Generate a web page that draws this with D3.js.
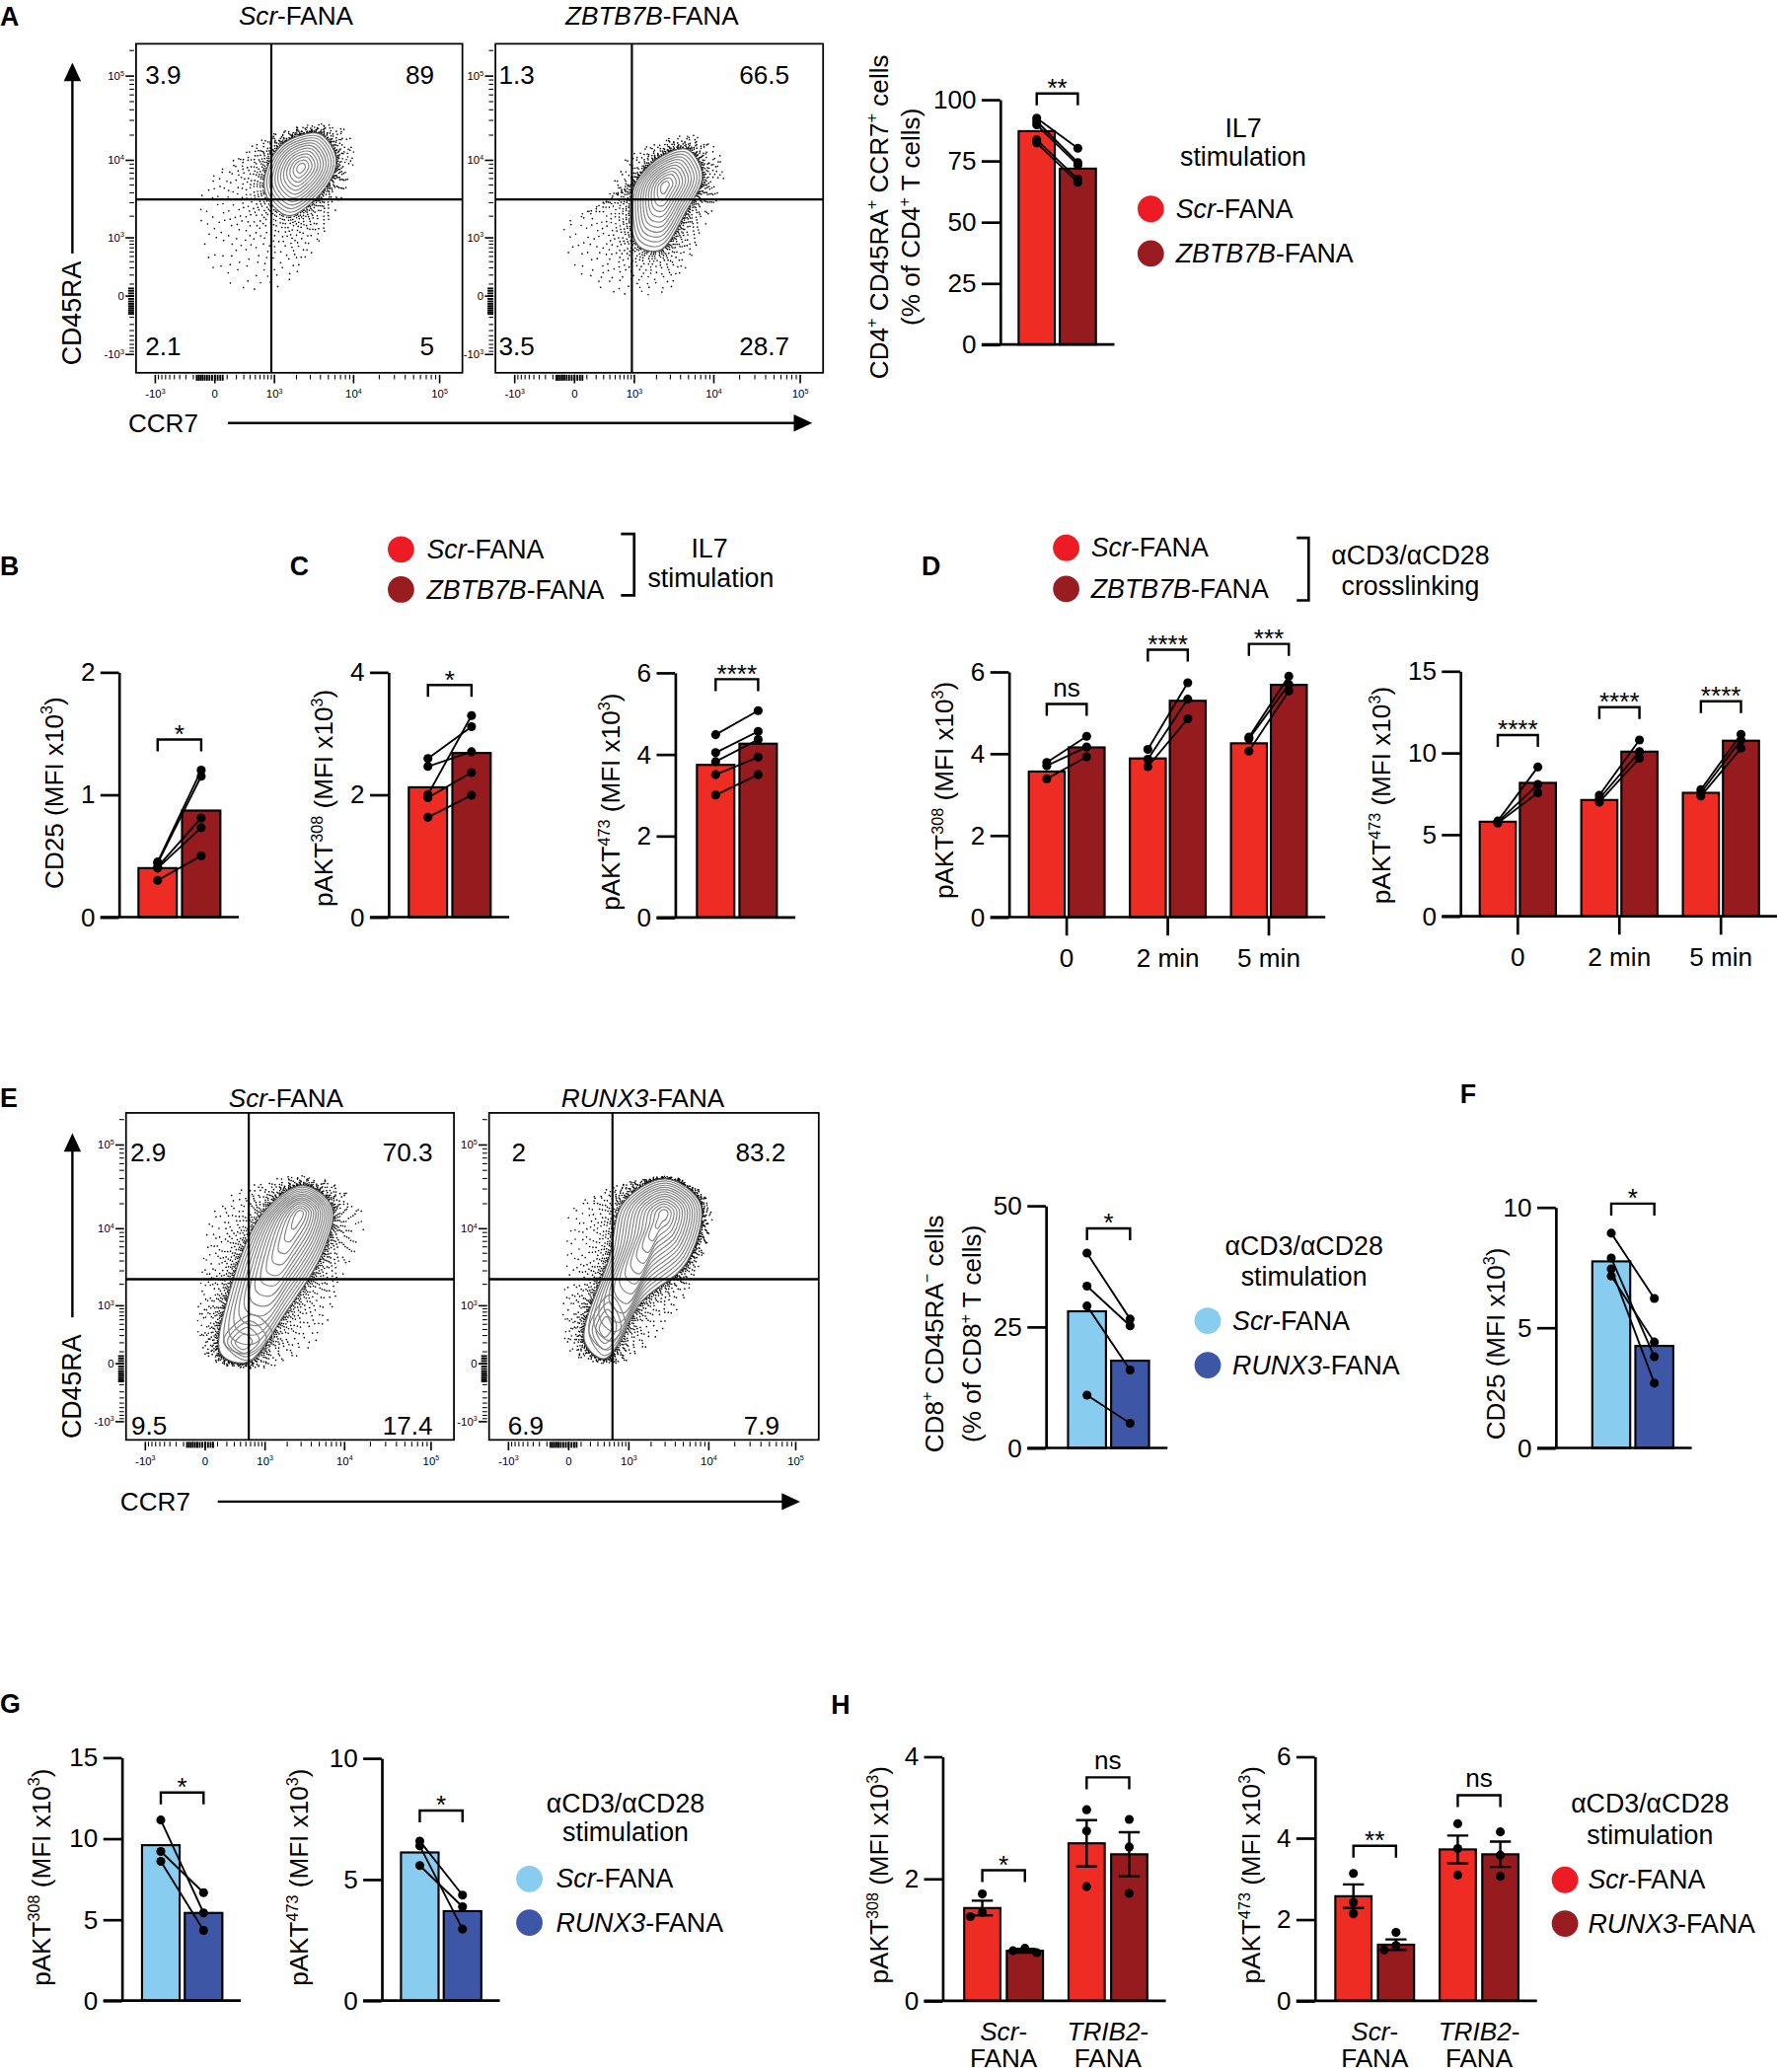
<!DOCTYPE html>
<html><head><meta charset="utf-8">
<script src="https://cdn.jsdelivr.net/npm/d3@7"></script>
<style>html,body{margin:0;padding:0;background:#fff;} svg{display:block;}</style>
</head><body>
<script>
// ================= DATA =================
// Flow cytometry panels (A, E)
const flowTickValues = [-1000, 0, 1000, 10000, 100000];
const flowTickLabels = ["-10^{3}", "0", "10^{3}", "10^{4}", "10^{5}"];
const flowTitlesA = ["_Scr_-FANA", "_ZBTB7B_-FANA"];
const flowQuadA = [[3.9, 89, 2.1, 5], [1.3, 66.5, 3.5, 28.7]];       // UL, UR, LL, LR
const flowGatesA = [[900, 3300], [920, 3300]];                       // CCR7, CD45RA gates
const flowTitlesE = ["_Scr_-FANA", "_RUNX3_-FANA"];
const flowQuadE = [[2.9, 70.3, 9.5, 17.4], [2, 83.2, 6.9, 7.9]];
const flowGatesE = [[560, 2330], [560, 2330]];
// contour outlines in (CCR7, CD45RA) units
const contourA = [
  { outer: [[3950,20600],[6200,10300],[4750,4900],[1670,2040],[950,2760],[700,4900],[950,11300],[1670,17800]],
    peak: [2300,8200],
    halo: [[7000,25000],[10000,12600],[7000,3300],[1150,80],[27,200],[-95,4200],[120,9000],[1150,21700]],
    lobes: [] },
  { outer: [[4850,13500],[7300,6500],[4600,2270],[2200,640],[1130,770],[880,2760],[1130,5900],[2400,11300]],
    peak: [2550,4900],
    halo: [[6350,19500],[13000,8700],[7300,1250],[2550,40],[130,125],[-80,1350],[340,3300],[760,10300]],
    lobes: [] }
];
const contourE = [
  { outer: [[3140,33000],[7020,18400],[5670,5620],[1830,731],[527,12],[134,80],[225,1430],[938,15400]],
    peak: [2900,15400],
    halo: [[4500,41500],[16600,14000],[9150,2400],[4500,224],[938,-30],[0,80],[-18,3170],[134,20200]],
    lobes: [{ outer: [[648,731],[1324,271],[527,24],[161,224]], peak: [410,185] }] },
  { outer: [[3040,39600],[7900,20200],[5480,3850],[1500,1150],[407,38],[134,224],[507,4650],[825,20200]],
    peak: [2900,15400],
    halo: [[3790,41500],[10500,18400],[7340,3170],[2850,432],[760,12],[10,110],[-7,4650],[29,16800]],
    lobes: [{ outer: [[507,1430],[900,432],[407,64],[180,376]], peak: [407,432] }] }
];

const seriesIL7 = ["_Scr_-FANA", "_ZBTB7B_-FANA"];
const seriesCD8 = ["_Scr_-FANA", "_RUNX3_-FANA"];

// Panel A bar
const aTicks = [0, 25, 50, 75, 100];
const aBars = [87.1, 71.8];
const aPtsScr = [92.4, 91.1, 89.7, 83.6, 82.3];
const aPtsZbtb = [80.1, 74.3, 73.3, 67.5, 66.2];
const aSig = ["**"];
// Panel B
const bTicks = [0, 1, 2];
const bBars = [0.40, 0.87];
const bPtsScr = [0.45, 0.44, 0.41, 0.40, 0.30];
const bPtsZbtb = [1.20, 1.15, 0.81, 0.73, 0.50];
const bSig = ["*"];
// Panel C
const c308Ticks = [0, 2, 4];
const c308Bars = [2.12, 2.68];
const c308PtsScr = [2.59, 2.46, 2.00, 1.95, 1.63];
const c308PtsZbtb = [3.11, 2.70, 3.29, 2.36, 1.99];
const c308Sig = ["*"];
const c473Ticks = [0, 2, 4, 6];
const c473Bars = [3.74, 4.26];
const c473PtsScr = [4.48, 4.04, 3.82, 3.50, 3.00];
const c473PtsZbtb = [5.07, 4.56, 4.36, 3.93, 3.50];
const c473Sig = ["****"];
// Panel D
const timepoints = ["0", "2 min", "5 min"];
const d308Ticks = [0, 2, 4, 6];
const d308BarsScr = [3.56, 3.88, 4.25];
const d308BarsZbtb = [4.15, 5.29, 5.68];
const d308PtsScr = [[3.78, 3.70, 3.38], [4.10, 3.86, 3.68], [4.40, 4.36, 4.06]];
const d308PtsZbtb = [[4.42, 4.16, 3.92], [5.73, 5.33, 4.85], [5.89, 5.69, 5.53]];
const d308Sig = ["ns", "****", "***"];
const d473Ticks = [0, 5, 10, 15];
const d473BarsScr = [5.78, 7.11, 7.55];
const d473BarsZbtb = [8.16, 10.07, 10.74];
const d473PtsScr = [[5.82, 5.76, 5.70], [7.40, 7.19, 6.98], [7.75, 7.55, 7.35]];
const d473PtsZbtb = [[9.13, 8.06, 7.55], [10.78, 10.07, 9.67], [11.13, 10.78, 10.28]];
const d473Sig = ["****", "****", "****"];
// Panel E bar
const eTicks = [0, 25, 50];
const eBars = [28.2, 18.0];
const ePtsScr = [40.2, 33.4, 29.3, 10.9];
const ePtsRunx = [26.6, 25.2, 16.1, 5.1];
const eSig = ["*"];
// Panel F
const fTicks = [0, 5, 10];
const fBars = [7.75, 4.24];
const fPtsScr = [8.92, 7.89, 7.44, 7.14];
const fPtsRunx = [6.21, 3.79, 2.69, 4.40];
const fSig = ["*"];
// Panel G
const g308Ticks = [0, 5, 10, 15];
const g308Bars = [9.59, 5.41];
const g308PtsScr = [11.14, 9.20, 8.59];
const g308PtsRunx = [5.41, 6.66, 4.33];
const g308Sig = ["*"];
const g473Ticks = [0, 5, 10];
const g473Bars = [6.11, 3.69];
const g473PtsScr = [6.58, 6.38, 5.57];
const g473PtsRunx = [4.35, 2.95, 3.87];
const g473Sig = ["*"];
// Panel H
const hGroups = ["Scr-FANA", "TRIB2-FANA"];
const h308Ticks = [0, 2, 4];
const h308BarsScr = [1.52, 2.58];
const h308ErrScr = [0.12, 0.38];
const h308BarsRunx = [0.82, 2.40];
const h308ErrRunx = [0.03, 0.36];
const h308PtsScr = [[1.75, 1.45, 1.38], [3.13, 2.78, 1.87]];
const h308PtsRunx = [[0.86, 0.82, 0.79], [2.97, 2.52, 1.76]];
const h308Sig = ["*", "ns"];
const h473Ticks = [0, 2, 4, 6];
const h473BarsScr = [2.57, 3.72];
const h473ErrScr = [0.29, 0.34];
const h473BarsRunx = [1.38, 3.60];
const h473ErrRunx = [0.13, 0.31];
const h473PtsScr = [[3.13, 2.42, 2.14], [4.35, 3.74, 3.09]];
const h473PtsRunx = [[1.68, 1.36, 1.25], [4.15, 3.58, 3.06]];
const h473Sig = ["**", "ns"];

// ================= STYLE =================
const FONT = "Arial, 'Liberation Sans', Helvetica, sans-serif";
const FS = 19.5;
const RED = "#EE2C24", DRED = "#961B1F", LBLUE = "#88CDEF", DBLUE = "#3D56A6";
const LRED = "#ED1C24", LDRED = "#991D20";

const svg = d3.select("body").append("svg")
  .attr("width", 1801).attr("height", 2100)
  .attr("viewBox", "0 0 1345 1568")
  .attr("font-family", FONT);
svg.append("rect").attr("width", 1345).attr("height", 1568).attr("fill", "#fff");

function rich(t, str, fs) {
  const re = /\^\{([^}]*)\}|_([^_]+)_|([^_^]+)/g;
  let m, shifted = false;
  while ((m = re.exec(str)) !== null) {
    if (m[1] !== undefined) {
      t.append("tspan").attr("font-size", fs * 0.62).attr("dy", -fs * 0.4).text(m[1]);
      shifted = true; continue;
    }
    const ts = t.append("tspan");
    if (shifted) { ts.attr("dy", fs * 0.4); shifted = false; }
    if (m[2] !== undefined) ts.attr("font-style", "italic").text(m[2]);
    else ts.text(m[3]);
  }
  return t;
}
function label(x, y, str, o = {}) {
  const fs = o.fs || FS;
  const t = svg.append("text").attr("x", x).attr("y", y).attr("font-size", fs)
    .attr("text-anchor", o.anchor || "start").attr("fill", "#000");
  if (o.bold) t.attr("font-weight", "bold");
  rich(t, str, fs);
  return t;
}
function yLabel(cx, cy, str, fs = FS) {
  const t = svg.append("text").attr("transform", `translate(${cx + fs * 0.36},${cy}) rotate(-90)`)
    .attr("text-anchor", "middle").attr("font-size", fs).attr("fill", "#000");
  rich(t, str, fs);
}

// ================= FLOW PLOTS =================
const cline = d3.line().curve(d3.curveCatmullRomClosed.alpha(0.5));
const lerpPts = (A, B, t) => A.map((p, i) => [p[0] + (B[i][0] - p[0]) * t, p[1] + (B[i][1] - p[1]) * t]);
const shrinkPts = (P, C, s) => P.map(p => [C[0] + (p[0] - C[0]) * s, C[1] + (p[1] - C[1]) * s]);
let clipN = 0;

function flowPlot(L, D, title, quad, gate, levels) {
  const g = svg.append("g");
  const x = d3.scaleSymlog().constant(260).domain([-1836, 183000]).range([L.x0, L.x0 + L.w]);
  const y = d3.scaleSymlog().constant(260).domain([-1808, 240000]).range([L.y0 + L.h, L.y0]);
  const id = "clip" + (clipN++);
  svg.append("clipPath").attr("id", id).append("rect")
    .attr("x", L.x0).attr("y", L.y0).attr("width", L.w).attr("height", L.h);
  const inner = g.append("g").attr("clip-path", `url(#${id})`);
  const toPx = pts => pts.map(d => [x(d[0]), y(d[1])]);
  const P = toPx(D.outer), Hh = toPx(D.halo), C = [x(D.peak[0]), y(D.peak[1])];

  // scattered events outside the outer contour: dotted rings, sparser outward
  const nR = 16;
  for (let i = 0; i < nR; i++) {
    const t = Math.pow(i / (nR - 1), 1.35);
    const gap = 1.5 + 9 * Math.pow(i / (nR - 1), 1.6);
    inner.append("path").attr("d", cline(lerpPts(P, Hh, t)))
      .attr("fill", "none").attr("stroke", "#000").attr("stroke-width", 1.2)
      .attr("stroke-linecap", "round")
      .attr("stroke-dasharray", `0.01 ${gap.toFixed(2)} 0.01 ${(gap * 1.7).toFixed(2)} 0.01 ${(gap * 0.8).toFixed(2)}`)
      .attr("stroke-dashoffset", (i * 2.37) % 7);
  }
  inner.append("path").attr("d", cline(P)).attr("fill", "#fff").attr("stroke", "none");
  for (let k = 0; k < levels; k++) {
    const s = Math.pow(1 - k / levels, 0.85);
    inner.append("path").attr("d", cline(shrinkPts(P, C, s)))
      .attr("fill", "none").attr("stroke", k === 0 ? "#6a6a6a" : "#858585").attr("stroke-width", 0.9);
  }
  D.lobes.forEach(lb => {
    const LP = toPx(lb.outer), LC = [x(lb.peak[0]), y(lb.peak[1])];
    for (let k = 0; k < 4; k++) {
      inner.append("path").attr("d", cline(shrinkPts(LP, LC, 1 - k * 0.22)))
        .attr("fill", "none").attr("stroke", "#858585").attr("stroke-width", 0.9);
    }
  });
  // gates
  g.append("line").attr("x1", x(gate[0])).attr("x2", x(gate[0])).attr("y1", L.y0).attr("y2", L.y0 + L.h)
    .attr("stroke", "#000").attr("stroke-width", 1.6);
  g.append("line").attr("x1", L.x0).attr("x2", L.x0 + L.w).attr("y1", y(gate[1])).attr("y2", y(gate[1]))
    .attr("stroke", "#000").attr("stroke-width", 1.8);
  g.append("rect").attr("x", L.x0).attr("y", L.y0).attr("width", L.w).attr("height", L.h)
    .attr("fill", "none").attr("stroke", "#000").attr("stroke-width", 1.3);
  // quadrant numbers
  const fmt = v => String(v);
  label(L.x0 + L.ulX, L.y0 + L.ulY, fmt(quad[0]));
  label(L.x0 + L.w - L.rPad, L.y0 + L.ulY, fmt(quad[1]), { anchor: "end" });
  label(L.x0 + L.llX, L.y0 + L.h + L.llY, fmt(quad[2]));
  label(L.x0 + L.w - L.lrPad, L.y0 + L.h + L.llY, fmt(quad[3]), { anchor: "end" });
  // title
  label(L.titleX, L.titleY, title, { anchor: "middle" });
  // ticks
  const minor = [];
  for (let k = 1; k <= 9; k++) { minor.push(-100 * k); minor.push(100 * k); }
  [1000, 10000, 100000].forEach(d => { for (let k = 2; k <= 9; k++) minor.push(k * d); });
  const dense = d3.range(-160, 61, 20);
  const yb = L.y0 + L.h;
  const xd = x.domain(), ydm = y.domain();
  minor.filter(v => v > xd[0] && v < xd[1]).forEach(v =>
    g.append("line").attr("x1", x(v)).attr("x2", x(v)).attr("y1", yb + 1.5).attr("y2", yb + 5).attr("stroke", "#000").attr("stroke-width", 0.8));
  minor.filter(v => v > ydm[0] && v < ydm[1]).forEach(v =>
    g.append("line").attr("y1", y(v)).attr("y2", y(v)).attr("x1", L.x0 - 1.5).attr("x2", L.x0 - 5).attr("stroke", "#000").attr("stroke-width", 0.8));
  dense.forEach(v => {
    g.append("line").attr("x1", x(v)).attr("x2", x(v)).attr("y1", yb + 1.5).attr("y2", yb + 6).attr("stroke", "#000").attr("stroke-width", 1.4);
    g.append("line").attr("y1", y(v)).attr("y2", y(v)).attr("x1", L.x0 - 1.5).attr("x2", L.x0 - 6).attr("stroke", "#000").attr("stroke-width", 1.4);
  });
  flowTickValues.forEach((v, i) => {
    g.append("line").attr("x1", x(v)).attr("x2", x(v)).attr("y1", yb + 1.5).attr("y2", yb + 8).attr("stroke", "#000").attr("stroke-width", 1.2);
    g.append("line").attr("y1", y(v)).attr("y2", y(v)).attr("x1", L.x0 - 1.5).attr("x2", L.x0 - 8).attr("stroke", "#000").attr("stroke-width", 1.2);
    label(x(v), yb + 19, flowTickLabels[i], { fs: 8.5, anchor: "middle" });
    label(L.x0 - 9, y(v) + 3, flowTickLabels[i], { fs: 8.5, anchor: "end" });
  });
}

function arrowsFlow(A) {
  svg.append("line").attr("x1", A.vx).attr("x2", A.vx).attr("y1", A.vy1).attr("y2", A.vy2 + 12)
    .attr("stroke", "#000").attr("stroke-width", 1.8);
  svg.append("path").attr("d", `M${A.vx},${A.vy2}L${A.vx - 6.5},${A.vy2 + 14}L${A.vx + 6.5},${A.vy2 + 14}Z`).attr("fill", "#000");
  yLabel(A.vx - 1, A.labY, "CD45RA", 20);
  svg.append("line").attr("x1", A.hx1).attr("x2", A.hx2 - 12).attr("y1", A.hy).attr("y2", A.hy)
    .attr("stroke", "#000").attr("stroke-width", 1.8);
  svg.append("path").attr("d", `M${A.hx2},${A.hy}L${A.hx2 - 14},${A.hy - 6.5}L${A.hx2 - 14},${A.hy + 6.5}Z`).attr("fill", "#000");
  label(A.labX, A.hy + 7, "CCR7", { fs: 19.5 });
}

const flowLayoutA = [
  { x0: 103, y0: 33, w: 247, h: 249, titleX: 224, titleY: 18.7, ulX: 7, ulY: 30, llX: 7, llY: -13.5, rPad: 21.3, lrPad: 21.3 },
  { x0: 375, y0: 33, w: 248, h: 249, titleX: 493.5, titleY: 18.7, ulX: 2.5, ulY: 30, llX: 2.5, llY: -13.5, rPad: 25.5, lrPad: 25.5 }
];
const flowLayoutE = [
  { x0: 95.4, y0: 842.2, w: 248.2, h: 247.5, titleX: 216.5, titleY: 837.7, ulX: 3.2, ulY: 36.6, llX: 4, llY: -4.3, rPad: 16, lrPad: 16 },
  { x0: 370.2, y0: 842.2, w: 249.5, h: 247.5, titleX: 486.6, titleY: 837.7, ulX: 17, ulY: 36.6, llX: 14.3, llY: -4.3, rPad: 25, lrPad: 29.7 }
];
flowLayoutA.forEach((L, i) => flowPlot(L, contourA[i], flowTitlesA[i], flowQuadA[i], flowGatesA[i], 12));
flowLayoutE.forEach((L, i) => flowPlot(L, contourE[i], flowTitlesE[i], flowQuadE[i], flowGatesE[i], 14));
arrowsFlow({ vx: 54.8, vy1: 191.7, vy2: 47.3, labY: 237, hy: 320, hx1: 172.5, hx2: 614.8, labX: 97 });
arrowsFlow({ vx: 54.8, vy1: 997, vy2: 857.6, labY: 1049.3, hy: 1136.4, hx1: 164.8, hx2: 605.7, labX: 91 });

// ================= BAR CHARTS =================
const R = 3.4;
function barChart(L, D) {
  const g = svg.append("g");
  const y = d3.scaleLinear().domain([0, d3.max(D.ticks)]).range([L.y0, L.yTop]);
  const xo = d3.scaleBand().domain(D.groups).range(L.range).paddingInner(L.padGroups || 0).paddingOuter(0);
  const xi = d3.scaleBand().domain(d3.range(D.series.length)).range([0, xo.bandwidth()]).paddingInner(L.padInner);
  const cx = (gi, si) => xo(D.groups[gi]) + xi(si) + xi.bandwidth() / 2;
  D.series.forEach((s, si) => {
    g.selectAll(null).data(D.bars[si]).join("rect")
      .attr("x", (v, gi) => xo(D.groups[gi]) + xi(si))
      .attr("y", v => y(v)).attr("width", xi.bandwidth()).attr("height", v => y(0) - y(v))
      .attr("fill", D.colors[si]).attr("stroke", "#000").attr("stroke-width", 1.6);
  });
  if (D.err) {
    D.series.forEach((s, si) => D.bars[si].forEach((v, gi) => {
      const e = D.err[si][gi], xc = cx(gi, si), cw = 8;
      g.append("path").attr("d", `M${xc},${y(v - e)}V${y(v + e)}M${xc - cw},${y(v + e)}H${xc + cw}M${xc - cw},${y(v - e)}H${xc + cw}`)
        .attr("fill", "none").attr("stroke", "#000").attr("stroke-width", 1.8);
    }));
  }
  if (D.paired) {
    D.groups.forEach((gr, gi) => {
      const p0 = D.points[0][gi], p1 = D.points[1][gi];
      p0.forEach((v, i) => g.append("line").attr("x1", cx(gi, 0)).attr("y1", y(v)).attr("x2", cx(gi, 1)).attr("y2", y(p1[i]))
        .attr("stroke", "#000").attr("stroke-width", 1.4));
      D.series.forEach((s, si) => D.points[si][gi].forEach(v =>
        g.append("circle").attr("cx", cx(gi, si)).attr("cy", y(v)).attr("r", R).attr("fill", "#000")));
    });
  } else {
    D.series.forEach((s, si) => D.groups.forEach((gr, gi) => {
      const placed = [], bx = cx(gi, si);
      D.points[si][gi].forEach(v => {
        const py = y(v);
        let off = 0;
        for (const o of [0, -9, 9, -18, 18]) {
          if (!placed.some(p => Math.hypot(p[0] - (bx + o), p[1] - py) < 2 * R + 0.5)) { off = o; break; }
        }
        placed.push([bx + off, py]);
        g.append("circle").attr("cx", bx + off).attr("cy", py).attr("r", R).attr("fill", "#000");
      });
    }));
  }
  const ax = g.append("g").attr("transform", `translate(${L.ax},0)`)
    .call(d3.axisLeft(y).tickValues(D.ticks).tickSize(14).tickSizeOuter(0).tickPadding(4).tickFormat(d3.format("d")));
  ax.select(".domain").attr("stroke-width", 2);
  ax.selectAll(".tick line").attr("stroke-width", 2);
  ax.selectAll(".tick text").attr("font-size", FS).attr("font-family", FONT).attr("fill", "#000");
  g.append("line").attr("x1", L.ax - 14).attr("x2", L.range[1] + 14).attr("y1", L.y0).attr("y2", L.y0)
    .attr("stroke", "#000").attr("stroke-width", 2);
  D.sig.forEach((s, gi) => {
    const x1 = cx(gi, 0), x2 = cx(gi, 1), yb = y(L.sigAt[gi]);
    g.append("path").attr("d", `M${x1},${yb + 9}V${yb}H${x2}V${yb + 9}`).attr("fill", "none")
      .attr("stroke", "#000").attr("stroke-width", 1.8);
    g.append("text").attr("x", (x1 + x2) / 2).attr("y", s === "ns" ? yb - 6 : yb + 2.5)
      .attr("text-anchor", "middle").attr("font-size", FS).attr("fill", "#000").text(s);
  });
  if (L.xTicks) {
    D.groups.forEach((gr, gi) => {
      const xc = xo(gr) + xo.bandwidth() / 2;
      g.append("line").attr("x1", xc).attr("x2", xc).attr("y1", L.y0).attr("y2", L.y0 + 14).attr("stroke", "#000").attr("stroke-width", 2);
      label(xc, L.y0 + 38, gr, { anchor: "middle" });
    });
  }
  if (L.xTwoLine) {
    D.groups.forEach((gr, gi) => {
      const xc = xo(gr) + xo.bandwidth() / 2;
      const parts = gr.split("-");
      label(xc, L.y0 + 30, "_" + parts[0] + "_-", { anchor: "middle" });
      label(xc, L.y0 + 50, parts[1], { anchor: "middle" });
    });
  }
  L.ylab.forEach((s, i) => yLabel(L.ylabX[i], L.ylabY, s));
}

const one = [""];
const P308 = "pAKT^{308} (MFI x10^{3})", P473 = "pAKT^{473} (MFI x10^{3})", CD25 = "CD25 (MFI x10^{3})";

barChart({ ax: 757, y0: 260.6, yTop: 75.2, range: [771, 829.5], padInner: 0.12, sigAt: [102.5],
  ylab: ["CD4^{+} CD45RA^{+} CCR7^{+} cells", "(% of CD4^{+} T cells)"], ylabX: [665, 689], ylabY: 164 },
  { groups: one, series: seriesIL7, colors: [RED, DRED], ticks: aTicks, bars: aBars.map(v => [v]),
    points: [[aPtsScr], [aPtsZbtb]], paired: true, sig: aSig });
barChart({ ax: 90, y0: 694, yTop: 508.6, range: [104.8, 166.8], padInner: 0.12, sigAt: [1.45],
  ylab: [CD25], ylabX: [40.5], ylabY: 600 },
  { groups: one, series: seriesIL7, colors: [RED, DRED], ticks: bTicks, bars: bBars.map(v => [v]),
    points: [[bPtsScr], [bPtsZbtb]], paired: true, sig: bSig });
barChart({ ax: 294, y0: 694, yTop: 508.6, range: [309.4, 371.4], padInner: 0.12, sigAt: [3.79],
  ylab: [P308], ylabX: [245], ylabY: 604 },
  { groups: one, series: seriesIL7, colors: [RED, DRED], ticks: c308Ticks, bars: c308Bars.map(v => [v]),
    points: [[c308PtsScr], [c308PtsZbtb]], paired: true, sig: c308Sig });
barChart({ ax: 511, y0: 694.3, yTop: 509, range: [527.5, 588], padInner: 0.12, sigAt: [5.84],
  ylab: [P473], ylabX: [462], ylabY: 606.8 },
  { groups: one, series: seriesIL7, colors: [RED, DRED], ticks: c473Ticks, bars: c473Bars.map(v => [v]),
    points: [[c473PtsScr], [c473PtsZbtb]], paired: true, sig: c473Sig });
barChart({ ax: 763.6, y0: 694, yTop: 508.3, range: [778.7, 989.1], padGroups: 0.25, padInner: 0.1,
  sigAt: [5.21, 6.54, 6.68], xTicks: true, ylab: [P308], ylabX: [714.4], ylabY: 598 },
  { groups: timepoints, series: seriesIL7, colors: [RED, DRED], ticks: d308Ticks, bars: [d308BarsScr, d308BarsZbtb],
    points: [d308PtsScr, d308PtsZbtb], paired: true, sig: d308Sig });
barChart({ ax: 1105.3, y0: 693.3, yTop: 507.8, range: [1120, 1331.4], padGroups: 0.25, padInner: 0.1,
  sigAt: [11.08, 12.79, 13.15], xTicks: true, ylab: [P473], ylabX: [1045.4], ylabY: 601.8 },
  { groups: timepoints, series: seriesIL7, colors: [RED, DRED], ticks: d473Ticks, bars: [d473BarsScr, d473BarsZbtb],
    points: [d473PtsScr, d473PtsZbtb], paired: true, sig: d473Sig });
barChart({ ax: 791.6, y0: 1095.8, yTop: 912.4, range: [808.4, 869.7], padInner: 0.12, sigAt: [45.3],
  ylab: ["CD8^{+} CD45RA^{−} cells", "(% of CD8^{+} T cells)"], ylabX: [706.8, 735.4], ylabY: 1009.4 },
  { groups: one, series: seriesCD8, colors: [LBLUE, DBLUE], ticks: eTicks, bars: eBars.map(v => [v]),
    points: [[ePtsScr], [ePtsRunx]], paired: true, sig: eSig });
barChart({ ax: 1177.5, y0: 1095.8, yTop: 913.6, range: [1205.2, 1266.5], padInner: 0.12, sigAt: [10.15],
  ylab: [CD25], ylabX: [1132], ylabY: 1017 },
  { groups: one, series: seriesCD8, colors: [LBLUE, DBLUE], ticks: fTicks, bars: fBars.map(v => [v]),
    points: [[fPtsScr], [fPtsRunx]], paired: true, sig: fSig });
barChart({ ax: 92.2, y0: 1514.1, yTop: 1330.1, range: [107.5, 168.3], padInner: 0.12, sigAt: [12.84],
  ylab: [P308], ylabX: [31], ylabY: 1420.8 },
  { groups: one, series: seriesCD8, colors: [LBLUE, DBLUE], ticks: g308Ticks, bars: g308Bars.map(v => [v]),
    points: [[g308PtsScr], [g308PtsRunx]], paired: true, sig: g308Sig });
barChart({ ax: 288.9, y0: 1514.1, yTop: 1330.6, range: [303.5, 364.3], padInner: 0.12, sigAt: [7.84],
  ylab: [P473], ylabX: [226], ylabY: 1420.8 },
  { groups: one, series: seriesCD8, colors: [LBLUE, DBLUE], ticks: g473Ticks, bars: g473Bars.map(v => [v]),
    points: [[g473PtsScr], [g473PtsRunx]], paired: true, sig: g473Sig });
barChart({ ax: 713.4, y0: 1514.3, yTop: 1329.4, range: [729.8, 868.4], padGroups: 0.245, padInner: 0.15,
  sigAt: [2.14, 3.66], xTwoLine: true, ylab: [P308], ylabX: [665.3], ylabY: 1419 },
  { groups: hGroups, series: seriesCD8, colors: [RED, DRED], ticks: h308Ticks, bars: [h308BarsScr, h308BarsRunx],
    err: [h308ErrScr, h308ErrRunx], points: [h308PtsScr, h308PtsRunx], paired: false, sig: h308Sig });
barChart({ ax: 995.2, y0: 1514.3, yTop: 1329.4, range: [1010.7, 1149.3], padGroups: 0.245, padInner: 0.15,
  sigAt: [3.81, 5.05], xTwoLine: true, ylab: [P473], ylabX: [947], ylabY: 1419 },
  { groups: hGroups, series: seriesCD8, colors: [RED, DRED], ticks: h473Ticks, bars: [h473BarsScr, h473BarsRunx],
    err: [h473ErrScr, h473ErrRunx], points: [h473PtsScr, h473PtsRunx], paired: false, sig: h473Sig });

// ================= LEGENDS =================
function legend(cx, cys, tx, names, colors) {
  names.forEach((n, i) => {
    svg.append("circle").attr("cx", cx).attr("cy", cys[i]).attr("r", 10).attr("fill", colors[i]);
    label(tx, cys[i] + 6.8, n, { fs: 20 });
  });
}
label(941, 103.3, "IL7", { anchor: "middle", fs: 20 });
label(941, 125, "stimulation", { anchor: "middle", fs: 20 });
legend(871, [158, 191.7], 890, seriesIL7, [LRED, LDRED]);
legend(303.5, [415.7, 446], 323, seriesIL7, [LRED, LDRED]);
svg.append("path").attr("d", "M470,404H480V450.5H470").attr("fill", "none").attr("stroke", "#000").attr("stroke-width", 2);
label(537, 422, "IL7", { anchor: "middle", fs: 20 });
label(538, 444.4, "stimulation", { anchor: "middle", fs: 20 });
legend(807, [414.5, 445.6], 825.8, seriesIL7, [LRED, LDRED]);
svg.append("path").attr("d", "M981.5,407H990.5V454.3H981.5").attr("fill", "none").attr("stroke", "#000").attr("stroke-width", 2);
label(1067.5, 427, "αCD3/αCD28", { anchor: "middle", fs: 20 });
label(1067.5, 450, "crosslinking", { anchor: "middle", fs: 20 });
label(987, 949.7, "αCD3/αCD28", { anchor: "middle", fs: 20 });
label(987, 973, "stimulation", { anchor: "middle", fs: 20 });
legend(914.1, [999.5, 1033.1], 932.8, seriesCD8, [LBLUE, DBLUE]);
label(473.5, 1371.7, "αCD3/αCD28", { anchor: "middle", fs: 20 });
label(473.5, 1393.4, "stimulation", { anchor: "middle", fs: 20 });
legend(400.7, [1422, 1455.1], 420.8, seriesCD8, [LBLUE, DBLUE]);
label(1248.9, 1372, "αCD3/αCD28", { anchor: "middle", fs: 20 });
label(1248.9, 1395.3, "stimulation", { anchor: "middle", fs: 20 });
legend(1184.5, [1422.7, 1455.8], 1201.9, seriesCD8, [LRED, LDRED]);

// ================= PANEL LETTERS =================
[["A", 0, 19], ["B", 0, 435.6], ["C", 219.3, 435.6], ["D", 697.6, 435.6], ["E", 0, 837.7],
 ["F", 1105, 835], ["G", 0, 1296], ["H", 629, 1297]].forEach(([t, x, y]) =>
  label(x, y, t, { fs: 20, bold: true }));
</script>
</body></html>
